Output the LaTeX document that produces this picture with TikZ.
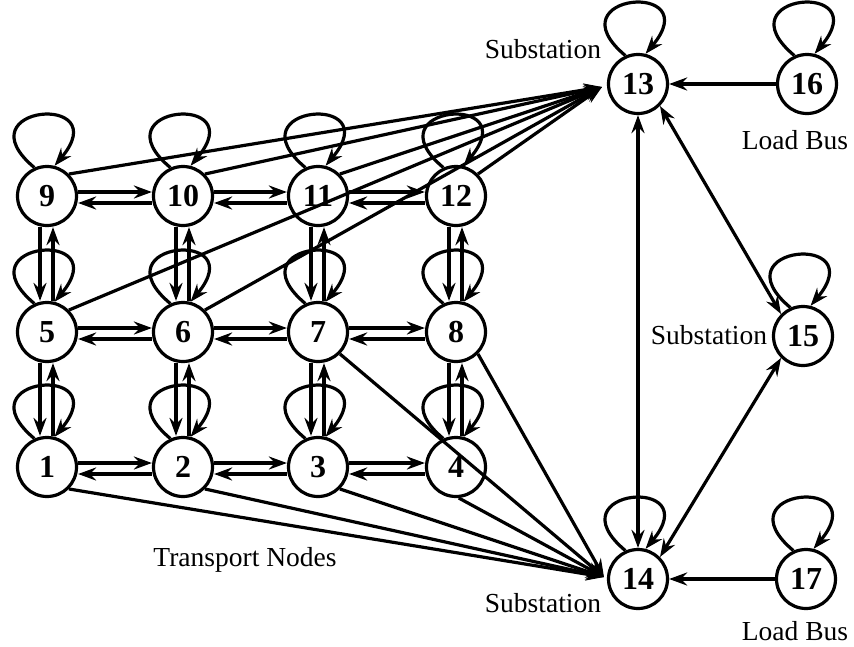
\documentclass[tikz,border=0pt]{standalone}
\usepackage{fontspec}
\setmainfont{Liberation Serif}
\newfontfamily\tmsfont{Liberation Serif}
\usetikzlibrary{arrows.meta}
\begin{document}
\begin{tikzpicture}[x=1pt,y=1pt,
  vtx/.style={circle,draw,line width=3.2pt,minimum size=59pt,inner sep=0pt,font=\tmsfont\fontsize{32}{38}\selectfont\bfseries},
  arr/.style={line width=3.2pt,-{Stealth[length=18pt,width=13pt,inset=6pt]}},
  bi/.style={line width=3.2pt,{Stealth[length=18pt,width=13pt,inset=6pt]}-{Stealth[length=18pt,width=13pt,inset=6pt]}},
  selfloop/.style={arr,out=140,in=50,distance=97pt},
  lbl/.style={inner sep=0pt,font=\tmsfont\fontsize{27.5}{32}\selectfont}]
\useasboundingbox (0,0) rectangle (854,-646);
\foreach \n/\x/\y in {1/47/467,2/183/467,3/318/467,4/456/467,5/47/332,6/183/332,7/318/332,8/456/332,9/47/196,10/183/196,11/318/196,12/456/196,13/638/84,14/638/579,15/803/336,16/807/84,17/806/579}
  \node[vtx] (n\n) at (\x,-\y) {\n};
% self loops
\foreach \n in {1,...,17}
  \draw[selfloop] (n\n.114) to (n\n.76);
% horizontal pairs
\foreach \a/\b in {9/10,10/11,11/12,5/6,6/7,7/8,1/2,2/3,3/4}{
  \draw[arr] ([yshift=4pt]n\a.east) -- ([yshift=4pt]n\b.west);
  \draw[arr] ([yshift=-7pt]n\b.west) -- ([yshift=-7pt]n\a.east);
}
% vertical pairs
\foreach \a/\b in {9/5,10/6,11/7,12/8,5/1,6/2,7/3,8/4}{
  \draw[arr] ([xshift=-7pt]n\a.south) -- ([xshift=-7pt]n\b.north);
  \draw[arr] ([xshift=6pt]n\b.north) -- ([xshift=6pt]n\a.south);
}
% to substations
\coordinate (c13) at (602,-87);
\coordinate (c14) at (604,-577);
\foreach \n in {9,10,11,12,5,6} \draw[arr] (n\n.45) -- (c13);
\foreach \n in {1,2,3,7,8} \draw[arr] (n\n.-45) -- (c14);
\draw[arr] (n4.-85) -- (c14);
\draw[bi] (n13.south) -- (n14.north);
\draw[bi] (n13.-45) -- (n15.135);
\draw[bi] (n14.45) -- (n15.-135);
\draw[arr] (n16) -- (n13);
\draw[arr] (n17) -- (n14);
% labels
\node[lbl] (s13) at (543,-49) {Substation};
\node[lbl] (s15) at (709,-335) {Substation};
\node[lbl] (s14) at (543,-603) {Substation};
\node[lbl] (l16) at (795,-140) {Load Bus};
\node[lbl] (l17) at (795,-631) {Load Bus};
\node[lbl] (tn) at (245,-560) {Transport Nodes};
\end{tikzpicture}
\end{document}
